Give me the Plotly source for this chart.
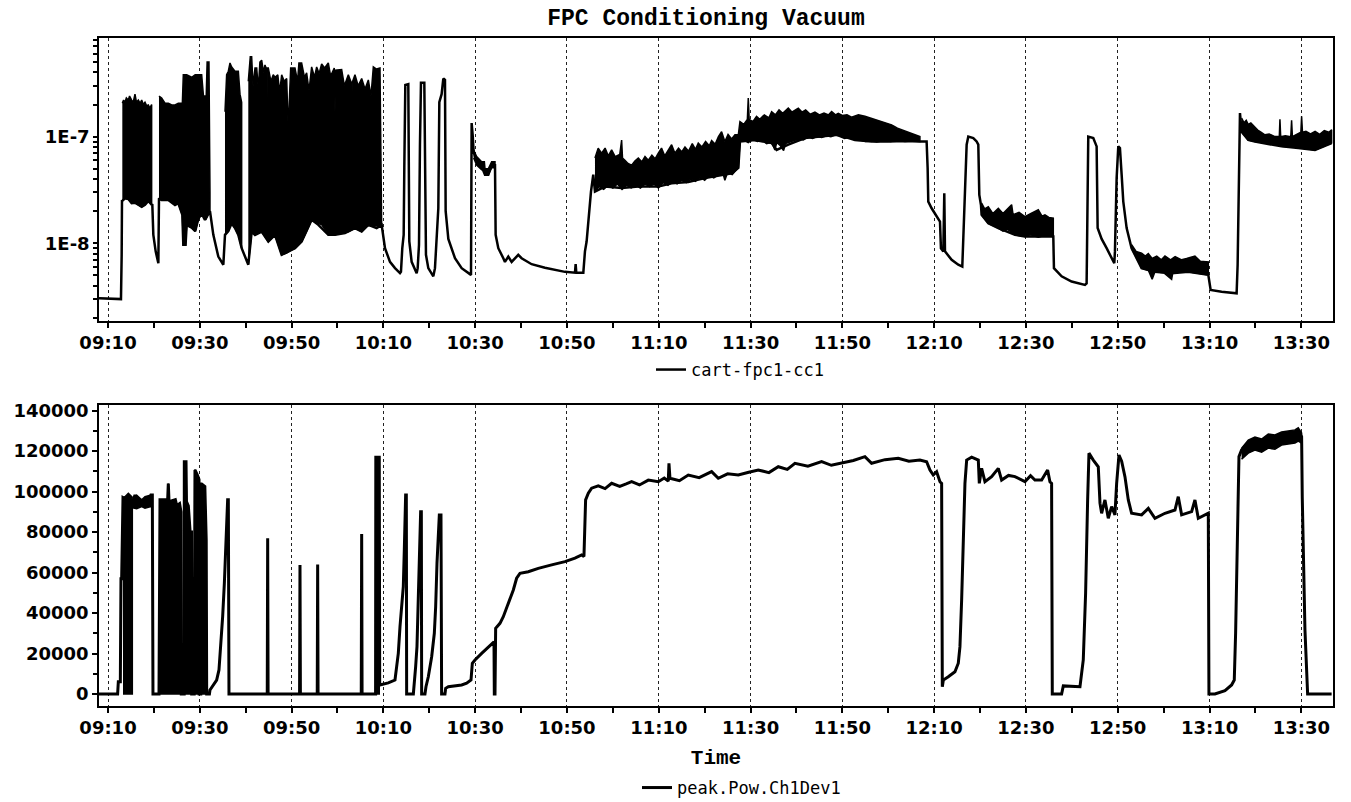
import math
import pandas as pd
import plotly.graph_objects as go
from plotly.subplots import make_subplots

# ---------------- data (time in minutes after 09:00) ----------------
top_min = [8.04, 12.83, 12.98, 13.05, 13.12, 13.7, 14.43, 15.16, 15.88, 16.61, 17.34, 18.06, 18.79, 19.51,
           19.66, 19.88, 20.39, 20.97, 21.11, 21.69, 23.14, 24.6, 25.32, 26.2, 26.41, 26.9, 27.14, 28.23,
           29.0, 29.68, 30.41, 31.13, 32.0, 32.22, 32.95, 34.04, 35.13, 35.49, 36.22, 36.94, 37.67, 38.4,
           39.12, 40.57, 41.3, 42.03, 43.48, 44.93, 46.38, 47.84, 49.29, 50.74, 52.19, 54.37, 55.83, 58.0,
           59.46, 61.63, 63.81, 65.27, 66.72, 68.53, 69.62, 70.35, 71.44, 72.53, 73.62, 73.83, 74.12, 74.42,
           74.56, 74.78, 75.43, 75.51, 75.65, 76.16, 77.25, 77.47, 77.76, 77.97, 78.19, 78.92, 79.06, 79.28,
           79.79, 80.88, 81.24, 81.61, 81.97, 82.19, 82.69, 83.06, 83.42, 83.57, 84.15, 85.6, 87.05, 89.09,
           89.23, 89.45, 89.67, 90.32, 91.41, 92.14, 92.86, 93.59, 94.32, 94.46, 95.04, 96.13, 96.49, 97.22,
           97.94, 99.39, 100.12, 102.3, 105.2, 109.56, 111.74, 111.89, 112.03, 113.56, 113.92, 114.28, 114.79,
           115.23, 115.73, 116.1, 118.28, 121.91, 125.54, 129.9, 132.8, 136.43, 140.06, 143.69, 145.87, 147.33,
           147.69, 150.96, 154.59, 155.68, 158.22, 161.85, 165.48, 169.11, 172.74, 176.37, 180.0, 183.64,
           186.9, 188.36, 188.58, 188.72, 189.45, 190.9, 191.27, 191.48, 192.0, 192.21, 192.36, 193.81, 195.26,
           196.13, 196.42, 196.71, 197.08, 197.44, 198.53, 199.25, 199.62, 199.84, 200.2, 200.34, 201.8,
           203.98, 207.61, 209.78, 212.69, 215.96, 216.1, 217.77, 219.95, 222.86, 223.22, 223.44, 223.58,
           224.67, 225.4, 225.62, 226.49, 227.58, 228.67, 229.25, 229.39, 229.76, 230.12, 230.48, 230.85,
           231.21, 231.94, 233.02, 235.2, 238.11, 241.74, 245.37, 249.73, 250.24, 252.63, 255.9, 256.12,
           256.41, 256.63, 256.99, 258.44, 259.89, 262.07, 264.25, 265.7, 269.33, 272.97, 276.6]
top_val = [3.06e-9, 3.0e-9, 7.8e-9, 2.55e-8, 2.5e-8, 2.64e-8, 2.6e-8, 2.38e-8, 2.4e-8, 2.3e-8, 2.2e-8, 2.3e-8, 2.5e-8, 2.3e-8,
           2.29e-8, 1.2e-8, 8.4e-9, 6.5e-9, 2.64e-8, 2.55e-8, 2.55e-8, 2.29e-8, 2.38e-8, 1.85e-8, 9.7e-9, 9.7e-9, 1.49e-8, 1.4e-8,
           1.3e-8, 1.7e-8, 1.9e-8, 1.66e-8, 1.98e-8, 2.0e-8, 1.2e-8, 7.5e-9, 6.3e-9, 1.2e-8, 1.3e-8, 1.54e-8, 1.39e-8, 1.2e-8,
           9.0e-9, 6.3e-9, 1.29e-8, 1.2e-8, 1.29e-8, 1.04e-8, 1.2e-8, 7.8e-9, 8.4e-9, 9.0e-9, 1.04e-8, 1.66e-8, 1.49e-8, 1.2e-8,
           1.2e-8, 1.25e-8, 1.39e-8, 1.29e-8, 1.49e-8, 1.39e-8, 1.49e-8, 9.0e-9, 6.7e-9, 5.85e-9, 5.25e-9, 5.4e-9, 9.0e-9, 1.2e-8,
           5.1e-8, 3.05e-7, 3.1e-7, 3.5e-8, 1.04e-8, 6.7e-9, 5.25e-9, 5.85e-9, 9.7e-9, 8.4e-8, 3.2e-7, 3.2e-7, 2.46e-8, 7.8e-9,
           5.85e-9, 4.9e-9, 5.85e-9, 1.04e-8, 2.13e-8, 2.1e-7, 2.5e-7, 3.5e-7, 3.4e-7, 2.0e-8, 1.1e-8, 7.25e-9, 5.85e-9, 5.06e-9,
           1.34e-7, 1.04e-7, 7.2e-8, 5.8e-8, 5.25e-8, 4.4e-8, 4.4e-8, 5.4e-8, 5.4e-8, 1.2e-8, 9.0e-9, 7.25e-9, 6.7e-9, 7.5e-9,
           6.7e-9, 7.8e-9, 7.25e-9, 6.37e-9, 5.9e-9, 5.4e-9, 5.3e-9, 6.4e-9, 5.3e-9, 5.3e-9, 8.4e-9, 1.04e-8, 1.85e-8,
           3.05e-8, 4.4e-8, 3.05e-8, 3.4e-8, 3.3e-8, 3.4e-8, 3.4e-8, 3.65e-8, 3.75e-8, 4.1e-8, 4.4e-8, 4.54e-8, 5.1e-8,
           9.0e-8, 9.3e-8, 8.7e-8, 7.5e-8, 8.4e-8, 9.7e-8, 1.0e-7, 1.04e-7, 9.3e-8, 9.0e-8, 9.0e-8, 9.1e-8,
           9.0e-8, 9.0e-8, 5.1e-8, 2.46e-8, 2.13e-8, 1.72e-8, 1.6e-8, 9.0e-9, 8.4e-9, 2.95e-8, 8.4e-9, 7.0e-9, 6.3e-9,
           6.05e-9, 1.2e-8, 3.5e-8, 8.4e-8, 1.0e-7, 9.7e-8, 9.0e-8, 8.4e-8, 2.84e-8, 2.29e-8, 1.85e-8, 1.54e-8,
           1.39e-8, 1.2e-8, 1.16e-8, 1.16e-8, 1.16e-8, 5.85e-9, 4.9e-9, 4.38e-9, 4.07e-9, 4.2e-9, 2.46e-8, 1.0e-7,
           9.7e-8, 8.1e-8, 1.39e-8, 1.1e-8, 9.0e-9, 7.25e-9, 6.5e-9, 8.4e-9, 4.1e-8, 8.1e-8, 7.8e-8, 4.4e-8,
           2.46e-8, 1.39e-8, 9.0e-9, 5.85e-9, 5.4e-9, 5.25e-9, 5.4e-9, 5.06e-9, 3.66e-9, 3.52e-9, 3.4e-9, 6.3e-9,
           4.22e-8, 1.66e-7, 1.11e-7, 9.3e-8, 9.0e-8, 8.7e-8, 8.4e-8, 8.1e-8, 7.8e-8, 7.5e-8, 8.7e-8]

# dense scatter regions of the vacuum trace: upper envelope (time, value) and lower envelope (time, value)
band1_hi_min = [13.12, 13.4, 13.7, 14.0, 14.43, 14.7, 15.16, 15.5, 15.88, 16.2, 16.61, 17.0, 17.34, 17.7,
                18.06, 18.4, 18.79, 19.1, 19.51]
band1_hi = [2.06e-7, 2.2e-7, 2.1e-7, 2.3e-7, 2.2e-7, 2.4e-7, 2.2e-7, 2.1e-7, 2.5e-7, 2.1e-7, 2.2e-7, 2.05e-7,
            2.2e-7, 2.0e-7, 2.1e-7, 1.95e-7, 1.98e-7, 1.85e-7, 2.0e-7]
band1_lo_min = [13.12, 13.7, 14.43, 15.16, 15.88, 16.61, 17.34, 18.06, 18.79, 19.51]
band1_lo = [2.5e-8, 2.64e-8, 2.6e-8, 2.38e-8, 2.4e-8, 2.3e-8, 2.2e-8, 2.3e-8, 2.5e-8, 2.3e-8]
band2_min = [21.11, 21.69, 22.42, 23.14, 23.87, 24.6, 25.32, 26.2]
band2_hi = [2.4e-7, 2.3e-7, 2.06e-7, 2.06e-7, 1.98e-7, 1.98e-7, 2.06e-7, 2.06e-7]
band2_lo = [2.64e-8, 2.55e-8, 2.55e-8, 2.55e-8, 2.4e-8, 2.29e-8, 2.38e-8, 1.85e-8]
band3_min = [26.2, 26.41, 26.9, 27.14, 28.23, 29.0, 29.68, 30.41, 30.8, 31.4, 31.6, 32.0, 32.22]
band3_hi = [2.06e-7, 3.8e-7, 3.8e-7, 3.8e-7, 3.6e-7, 3.8e-7, 3.8e-7, 3.8e-7, 2.4e-7, 2.4e-7, 5.0e-7, 5.0e-7, 3.0e-8]
band3_lo = [1.85e-8, 9.7e-9, 9.7e-9, 1.49e-8, 1.4e-8, 1.3e-8, 1.7e-8, 1.9e-8, 1.8e-8, 1.7e-8, 1.8e-8, 1.98e-8, 2.0e-8]
band4_min = [35.49, 35.85, 36.22, 36.58, 36.94, 37.67, 38.4, 38.76, 39.12]
band4_hi = [1.71e-7, 3.8e-7, 4.1e-7, 4.9e-7, 4.5e-7, 4.1e-7, 4.1e-7, 2.5e-7, 2.1e-7]
band4_lo = [1.2e-8, 1.25e-8, 1.3e-8, 1.45e-8, 1.54e-8, 1.39e-8, 1.2e-8, 1.05e-8, 9.0e-9]
band5_hi_min = [40.57, 41.0, 41.3, 41.6, 42.03, 42.4, 42.75, 43.1, 43.48, 43.9, 44.2, 44.45, 44.57, 44.7, 44.93,
                45.5, 46.0, 46.38, 47.0, 47.4, 47.84, 48.4, 48.93, 49.29, 49.5, 49.8, 50.74, 51.3, 51.6, 52.19,
                52.8, 53.28, 53.8, 54.37, 55.0, 55.46, 56.0, 56.55, 57.2, 58.0, 58.5, 59.3, 59.46, 59.6, 60.91,
                61.5, 62.36, 63.0, 63.08, 63.2, 63.81, 64.5, 65.27, 66.0, 66.72, 67.3, 67.81, 68.5, 69.26, 69.62]
band5_hi = [3.3e-7, 5.6e-7, 5.6e-7, 3.0e-7, 4.4e-7, 4.4e-7, 2.8e-7, 5.0e-7, 5.2e-7, 4.0e-7, 4.7e-7, 4.4e-7, 9.0e-8,
            4.4e-7, 4.4e-7, 3.3e-7, 3.8e-7, 3.6e-7, 3.8e-7, 2.6e-7, 3.8e-7, 3.3e-7, 3.5e-7, 1.1e-7, 2.1e-7, 4.4e-7,
            4.4e-7, 3.3e-7, 4.9e-7, 4.9e-7, 3.6e-7, 3.95e-7, 2.7e-7, 4.5e-7, 3.6e-7, 4.5e-7, 3.9e-7, 4.8e-7, 4.4e-7,
            4.9e-7, 3.7e-7, 4.4e-7, 1.7e-7, 4.2e-7, 4.25e-7, 3.0e-7, 3.8e-7, 3.2e-7, 1.6e-7, 3.2e-7, 3.8e-7, 3.0e-7,
            3.5e-7, 2.8e-7, 3.4e-7, 2.4e-7, 4.5e-7, 4.3e-7, 4.4e-7, 2.46e-8]
band5_lo_min = [40.57, 41.3, 42.03, 42.75, 43.48, 44.2, 44.93, 46.38, 47.84, 48.93, 49.65, 50.74, 52.19, 53.28,
                54.37, 55.46, 56.55, 58.0, 59.46, 60.91, 62.36, 63.81, 65.27, 66.72, 67.81, 69.26, 69.62]
band5_lo = [6.3e-9, 1.29e-8, 1.2e-8, 1.25e-8, 1.29e-8, 1.15e-8, 1.04e-8, 1.2e-8, 7.8e-9, 8.1e-9, 8.4e-9, 9.0e-9, 1.04e-8,
            1.3e-8, 1.66e-8, 1.55e-8, 1.5e-8, 1.2e-8, 1.2e-8, 1.25e-8, 1.28e-8, 1.39e-8, 1.29e-8, 1.49e-8, 1.45e-8,
            1.45e-8, 1.49e-8]
band6_min = [89.67, 90.32, 91.41, 92.0, 92.14, 92.86, 93.59, 94.32]
band6_hi = [7.5e-8, 6.5e-8, 5.8e-8, 5.8e-8, 5.0e-8, 5.0e-8, 5.8e-8, 5.8e-8]
band6_lo = [6.3e-8, 5.4e-8, 4.9e-8, 4.9e-8, 4.4e-8, 4.4e-8, 5.1e-8, 5.1e-8]
bandA_hi_min = [116.1, 116.8, 117.55, 118.3, 119.0, 119.73, 120.5, 121.5, 121.91, 122.1, 122.63, 123.3, 124.09,
                124.8, 125.54, 126.3, 127.0, 127.72, 128.5, 129.2, 129.9, 130.6, 131.3, 132.0, 132.8, 133.5,
                134.3, 135.0, 135.71, 136.5, 137.3, 138.0, 138.61, 139.4, 140.2, 141.0, 141.52, 142.3, 143.0,
                143.69, 144.4, 145.1, 145.87, 146.6, 147.33]
bandA_hi = [6.3e-8, 7.8e-8, 7.0e-8, 7.8e-8, 6.6e-8, 7.5e-8, 6.5e-8, 6.8e-8, 9.3e-8, 6.3e-8, 6.0e-8, 5.6e-8, 5.4e-8,
            5.9e-8, 6.3e-8, 5.8e-8, 6.5e-8, 6.0e-8, 6.7e-8, 6.2e-8, 7.0e-8, 7.8e-8, 6.6e-8, 7.5e-8, 8.4e-8, 7.0e-8,
            7.8e-8, 7.2e-8, 8.0e-8, 7.3e-8, 8.6e-8, 7.6e-8, 8.7e-8, 8.0e-8, 9.0e-8, 8.2e-8, 9.2e-8, 8.5e-8, 1.0e-7,
            1.11e-7, 9.0e-8, 1.05e-7, 9.5e-8, 1.04e-7, 1.04e-7]
bandA_lo_min = [116.1, 117.0, 118.0, 119.0, 120.0, 121.0, 122.0, 123.0, 124.0, 125.0, 126.0, 127.0, 128.0, 129.0,
                129.9, 131.0, 132.0, 133.0, 134.0, 135.0, 136.0, 137.0, 138.0, 139.0, 140.0, 141.0, 142.0, 143.0,
                144.0, 144.4, 145.0, 146.0, 147.33]
bandA_lo = [3.05e-8, 3.4e-8, 3.2e-8, 3.5e-8, 3.3e-8, 3.6e-8, 3.2e-8, 3.5e-8, 3.3e-8, 3.5e-8, 3.3e-8, 3.6e-8, 3.4e-8,
            3.6e-8, 3.3e-8, 3.7e-8, 3.5e-8, 3.8e-8, 3.6e-8, 3.9e-8, 3.7e-8, 4.0e-8, 3.8e-8, 4.2e-8, 3.9e-8, 4.3e-8,
            4.1e-8, 4.4e-8, 4.5e-8, 3.9e-8, 4.6e-8, 4.4e-8, 5.1e-8]
bandB_hi_min = [147.33, 147.69, 148.5, 149.3, 149.5, 149.7, 150.5, 151.3, 152.0, 153.0, 154.0, 154.59, 155.4,
                156.2, 157.0, 158.22, 159.0, 160.4, 161.2, 162.0, 163.0, 164.03, 165.0, 166.0, 167.0, 167.66,
                168.5, 169.11, 170.0, 171.0, 172.0, 172.74, 173.5, 174.92, 176.0, 177.0, 177.83, 179.0, 180.73,
                182.0, 183.64, 185.0, 186.9]
bandB_hi = [1.04e-7, 1.38e-7, 1.3e-7, 1.45e-7, 2.3e-7, 1.45e-7, 1.38e-7, 1.55e-7, 1.45e-7, 1.6e-7, 1.5e-7, 1.71e-7,
            1.6e-7, 1.78e-7, 1.65e-7, 1.85e-7, 1.7e-7, 1.85e-7, 1.7e-7, 1.78e-7, 1.62e-7, 1.7e-7, 1.6e-7, 1.66e-7,
            1.6e-7, 1.72e-7, 1.6e-7, 1.65e-7, 1.58e-7, 1.6e-7, 1.52e-7, 1.55e-7, 1.6e-7, 1.55e-7, 1.5e-7, 1.46e-7,
            1.43e-7, 1.36e-7, 1.29e-7, 1.2e-7, 1.13e-7, 1.07e-7, 1.0e-7]
bandB_lo_min = [147.33, 147.69, 148.5, 149.5, 150.5, 151.5, 152.5, 153.5, 154.59, 155.3, 155.7, 156.5, 157.2,
                157.6, 158.5, 159.5, 160.5, 161.5, 162.5, 163.5, 164.5, 165.5, 166.5, 167.5, 168.5, 169.5,
                170.5, 171.5, 172.74, 174.0, 175.0, 176.37, 177.5, 179.0, 180.5, 182.0, 183.64, 185.0, 186.9]
bandB_lo = [5.1e-8, 9.0e-8, 9.3e-8, 8.8e-8, 9.4e-8, 9.0e-8, 9.2e-8, 8.6e-8, 8.9e-8, 7.5e-8, 8.8e-8, 8.2e-8, 7.4e-8,
            8.6e-8, 8.8e-8, 9.2e-8, 9.5e-8, 9.3e-8, 9.9e-8, 9.6e-8, 1.0e-7, 9.8e-8, 1.02e-7, 1.0e-7, 1.04e-7, 1.0e-7,
            9.6e-8, 9.8e-8, 9.3e-8, 9.5e-8, 9.0e-8, 9.1e-8, 8.9e-8, 9.2e-8, 9.0e-8, 9.2e-8, 9.0e-8, 9.1e-8, 9.0e-8]
bandC_hi_min = [200.34, 201.0, 201.8, 202.8, 203.98, 205.0, 206.88, 207.2, 208.5, 209.78, 211.0, 212.69, 213.5,
                214.14, 215.0, 215.96]
bandC_hi = [2.38e-8, 2.1e-8, 2.2e-8, 1.9e-8, 2.13e-8, 1.9e-8, 2.3e-8, 1.85e-8, 1.95e-8, 1.78e-8, 1.9e-8, 2.06e-8,
            1.8e-8, 1.85e-8, 1.75e-8, 1.72e-8]
bandC_lo_min = [200.34, 201.8, 203.0, 203.98, 205.0, 206.0, 207.61, 209.78, 211.0, 212.69, 214.0, 215.96]
bandC_lo = [1.85e-8, 1.54e-8, 1.45e-8, 1.39e-8, 1.3e-8, 1.35e-8, 1.2e-8, 1.16e-8, 1.2e-8, 1.14e-8, 1.18e-8, 1.16e-8]
bandD_hi_min = [233.02, 234.0, 235.2, 236.0, 236.66, 237.5, 238.5, 239.5, 240.29, 241.5, 242.5, 243.92, 245.0,
                246.82, 248.0, 249.73]
bandD_hi = [9.7e-9, 8.4e-9, 8.1e-9, 7.6e-9, 8.0e-9, 7.2e-9, 7.6e-9, 7.0e-9, 7.6e-9, 7.0e-9, 7.5e-9, 7.0e-9, 7.2e-9,
            7.6e-9, 6.8e-9, 6.7e-9]
bandD_lo_min = [233.02, 235.2, 236.66, 237.5, 238.11, 240.0, 241.74, 242.0, 245.37, 249.73]
bandD_lo = [9.0e-9, 5.85e-9, 5.6e-9, 4.6e-9, 5.4e-9, 5.3e-9, 4.6e-9, 5.3e-9, 5.4e-9, 5.06e-9]
bandE_hi_min = [256.99, 257.5, 258.0, 258.44, 259.0, 259.89, 260.5, 261.2, 262.07, 263.0, 264.25, 265.2, 265.34,
                265.5, 266.5, 267.7, 267.88, 268.05, 269.0, 269.9, 270.06, 270.25, 271.0, 272.0, 273.0, 274.0,
                275.0, 276.0, 276.6]
bandE_hi = [1.49e-7, 1.35e-7, 1.42e-7, 1.3e-7, 1.34e-7, 1.22e-7, 1.15e-7, 1.1e-7, 1.04e-7, 1.06e-7, 1.0e-7, 1.0e-7,
            1.45e-7, 1.0e-7, 1.02e-7, 1.0e-7, 1.42e-7, 1.0e-7, 1.05e-7, 1.1e-7, 1.55e-7, 1.1e-7, 1.12e-7, 1.06e-7,
            1.12e-7, 1.05e-7, 1.14e-7, 1.1e-7, 1.16e-7]
bandE_lo_min = [256.99, 258.44, 259.89, 262.07, 264.25, 265.34, 265.7, 267.88, 268.25, 270.06, 270.42, 272.97, 276.6]
bandE_lo = [1.11e-7, 9.3e-8, 9.0e-8, 8.7e-8, 8.4e-8, 8.3e-8, 8.1e-8, 8.0e-8, 8.0e-8, 7.9e-8, 7.8e-8, 7.5e-8, 8.7e-8]

bot_min = [8.04, 12.1, 12.25, 12.69, 12.83, 12.98, 13.27, 15.3, 15.88, 16.25, 16.61, 17.34, 18.06, 18.79, 19.37,
           19.66, 19.8, 21.11, 21.33, 23.0, 23.14, 23.3, 24.67, 25.0, 25.6, 25.9, 25.97, 26.6, 26.63, 27.0, 27.1,
           27.5, 27.9, 28.2, 28.23, 28.78, 28.81, 28.95, 29.5, 29.83, 29.86, 30.22, 30.26, 30.4, 31.1, 31.4, 31.5,
           32.1, 32.22, 32.95, 33.67, 34.18, 34.62, 34.98, 35.35, 35.64, 35.85, 36.07, 36.22, 36.36, 44.7, 44.79,
           44.88, 51.74, 51.83, 51.92, 55.59, 55.68, 55.77, 65.18, 65.27, 65.36, 68.3, 68.35, 69.1, 69.2, 71.07,
           72.53, 72.89, 73.25, 73.62, 73.98, 74.34, 74.56, 74.71, 74.85, 75.0, 75.07, 76.53, 76.74, 77.03, 77.32,
           77.61, 77.9, 78.12, 78.27, 78.34, 79.06, 79.28, 79.79, 80.52, 81.1, 81.39, 81.68, 81.97, 82.19, 82.55,
           82.69, 83.42, 83.57, 84.15, 87.05, 88.14, 89.09, 89.38, 89.96, 91.41, 92.86, 94.1, 94.17, 94.32, 94.46,
           95.4, 96.13, 97.58, 98.31, 99.03, 99.76, 101.57, 103.75, 106.66, 109.56, 111.74, 113.19, 113.7, 113.92,
           114.06, 114.65, 115.37, 116.82, 118.3, 119.73, 121.5, 122.9, 124.09, 125.8, 127.72, 129.9, 131.2,
           132.07, 132.22, 132.44, 134.5, 136.43, 138.8, 141.52, 142.97, 145.0, 147.33, 149.6, 151.68, 154.0,
           156.04, 158.0, 159.67, 162.5, 165.48, 167.6, 169.84, 172.4, 174.92, 176.37, 179.3, 182.18, 184.5,
           186.9, 188.36, 189.09, 189.81, 190.54, 191.27, 191.63, 191.78, 192.0, 193.08, 194.53, 195.26, 195.62,
           195.99, 196.35, 196.71, 197.08, 198.17, 199.62, 199.84, 200.34, 201.07, 202.52, 203.98, 204.7, 206.2,
           207.61, 209.78, 211.0, 211.96, 213.42, 214.72, 215.23, 215.59, 215.74, 217.77, 218.14, 221.77, 222.49,
           223.0, 223.44, 223.73, 224.67, 225.76, 226.13, 226.49, 227.21, 227.94, 228.67, 229.39, 229.76, 230.27,
           230.85, 231.57, 232.3, 233.02, 235.2, 236.66, 238.11, 240.29, 242.47, 243.19, 243.92, 246.1, 246.82,
           247.55, 249.73, 249.87, 251.18, 253.36, 254.81, 255.39, 255.68, 255.9, 256.12, 256.41, 256.99, 258.44,
           259.89, 261.35, 262.8, 264.25, 265.7, 267.16, 268.61, 269.33, 270.06, 270.2, 270.49, 270.79, 271.37, 276.6]
bot_val = [0, 0, 6000, 6000, 57000, 57000, 97000, 94300, 98300, 96000, 94300, 94000, 95900, 94000, 98300,
           98300, 0, 0, 96000, 96000, 104000, 95000, 96000, 93000, 94000, 90000, 0, 0, 114800, 114800, 95000,
           93000, 80000, 80000, 0, 0, 110700, 110700, 108000, 106000, 0, 0, 103800, 103800, 102500, 76000, 0,
           0, 2000, 4450, 6900, 11900, 25000, 38200, 54700, 76100, 90900, 96000, 96000, 0, 0, 77000,
           0, 0, 63800, 0, 0, 64000, 0, 0, 79000, 0, 0, 117000, 117000, 4450, 5500,
           6900, 13500, 20100, 33300, 43100, 53000, 71200, 86000, 98300, 98300, 0, 0, 4450, 13500, 23400,
           53000, 76100, 90100, 90100, 0, 0, 3600, 8500, 18400, 30000, 43100, 64600, 79400, 88500, 88500,
           0, 0, 2800, 3600, 4450, 5300, 6900, 15200, 16800, 20100, 23400, 25800, 0, 0, 32500,
           34900, 38200, 46500, 51400, 57200, 59600, 60400, 62100, 63800, 65400, 67100, 68700, 67900, 82700,
           95900, 99200, 101700, 102800, 101500, 104100, 102600, 103800, 104900, 103300, 105700, 104900, 106700,
           105200, 114000, 106600, 105400, 108200, 106900, 109900, 106600, 108800, 108200, 109600, 110700, 109400,
           112300, 111000, 114000, 112600, 114800, 113000, 114000, 115400, 117300, 114000, 115800, 116500, 115000,
           115600, 114800, 110700, 108200, 109800, 104900, 104100, 3600, 6900, 8500, 11000, 15200, 23400,
           46500, 76100, 104100, 115600, 117000, 115600, 104100, 111500, 104900, 107400, 111500, 105700, 108000,
           107400, 104900, 107900, 105700, 105700, 110700, 104900, 104100, 0, 0, 4000, 3600, 16800,
           49800, 95900, 119000, 115600, 112300, 94300, 89300, 95900, 86800, 92600, 88500, 104100, 118100,
           115000, 107400, 95900, 89300, 88500, 91700, 86800, 89300, 90900, 97500, 88500, 90100, 95900,
           86800, 89300, 0, 0, 1700, 4450, 6900, 30000, 62900, 95900, 117300, 120600, 123900,
           124700, 123100, 126400, 124700, 127200, 128000, 128800, 130100, 127200, 97500, 64600, 31600, 0, 0]

# dense switching regions of the power trace
pb1_min = [13.27, 13.7, 14.43, 15.16, 15.3]
pb1_hi = [97000, 97500, 99200, 97500, 94300]
pb1_lo = [0, 0, 0, 0, 0]
pb2_min = [15.3, 16.25, 17.34, 18.06, 19.37, 19.66]
pb2_hi = [97000, 98300, 96000, 97500, 98300, 98300]
pb2_lo = [92000, 91500, 92600, 91800, 92600, 92000]
pb3_min = [21.33, 23.0, 23.14, 23.3, 24.67, 25.0, 25.6, 25.9]
pb3_hi = [96000, 96000, 104000, 95000, 96000, 93000, 94000, 90000]
pb3_lo = [0, 0, 0, 0, 0, 0, 0, 0]
pb4_min = [26.63, 27.0, 27.1, 27.5, 27.9, 28.2]
pb4_hi = [114800, 114800, 95000, 93000, 80000, 80000]
pb4_lo = [0, 0, 0, 0, 0, 0]
pb5_min = [28.81, 28.95, 29.5, 29.83]
pb5_hi = [110700, 110700, 108000, 106000]
pb5_lo = [0, 0, 0, 0]
pb6_min = [30.26, 30.4, 31.1, 31.4]
pb6_hi = [103800, 103800, 102500, 76000]
pb6_lo = [0, 0, 0, 0]
pb7_min = [68.35, 69.1]
pb7_hi = [117000, 117000]
pb7_lo = [0, 0]
pb8_min = [256.99, 258.44, 259.89, 261.35, 262.8, 264.25, 265.7, 267.16, 268.61, 269.33, 270.06]
pb8_hi = [121500, 125500, 127000, 126000, 128500, 128000, 129500, 130000, 130500, 131500, 129000]
pb8_lo = [116000, 119000, 120500, 119500, 121500, 121000, 123000, 123500, 124000, 125000, 124000]

x_range_min = [8.04, 276.9]
x_tick0_min = 10
top_tickvals = [2e-9, 3e-9, 4e-9, 5e-9, 6e-9, 7e-9, 8e-9, 9e-9,
                1e-8, 2e-8, 3e-8, 4e-8, 5e-8, 6e-8, 7e-8, 8e-8, 9e-8,
                1e-7, 2e-7, 3e-7, 4e-7, 5e-7, 6e-7, 7e-7, 8e-7]
top_ticktext = ["", "", "", "", "", "", "", "",
                "1E-8", "", "", "", "", "", "", "", "",
                "1E-7", "", "", "", "", "", "", ""]
top_range = [1.87e-9, 8.4e-7]
bot_tickvals = [0, 20000, 40000, 60000, 80000, 100000, 120000, 140000]
bot_ticktext = ["0", "20000", "40000", "60000", "80000", "100000", "120000", "140000"]
bot_range = [-5930, 142800]

# ---------------- helpers ----------------
BASE = pd.Timestamp("2024-01-01 09:00:00")


def to_time(mins):
    return [BASE + pd.Timedelta(minutes=m) for m in mins]


def band_path(bands):
    xs, ys = [], []
    for t_hi, hi, t_lo, lo in bands:
        xs += to_time(t_hi) + to_time(t_lo[::-1]) + [None]
        ys += list(hi) + list(lo[::-1]) + [None]
    return xs, ys


fig = make_subplots(rows=2, cols=1)

tb_x, tb_y = band_path([
    (band1_hi_min, band1_hi, band1_lo_min, band1_lo), (band2_min, band2_hi, band2_min, band2_lo),
    (band3_min, band3_hi, band3_min, band3_lo), (band4_min, band4_hi, band4_min, band4_lo),
    (band5_hi_min, band5_hi, band5_lo_min, band5_lo), (band6_min, band6_hi, band6_min, band6_lo),
    (bandA_hi_min, bandA_hi, bandA_lo_min, bandA_lo), (bandB_hi_min, bandB_hi, bandB_lo_min, bandB_lo),
    (bandC_hi_min, bandC_hi, bandC_lo_min, bandC_lo), (bandD_hi_min, bandD_hi, bandD_lo_min, bandD_lo),
    (bandE_hi_min, bandE_hi, bandE_lo_min, bandE_lo)])
fig.add_trace(go.Scatter(x=tb_x, y=tb_y, mode="lines", fill="toself", fillcolor="black",
                         line=dict(color="black", width=1.5), showlegend=False, hoverinfo="skip"),
              row=1, col=1)
fig.add_trace(go.Scatter(x=to_time(top_min), y=top_val, mode="lines", name="cart-fpc1-cc1",
                         line=dict(color="black", width=2.5), legend="legend"), row=1, col=1)

bb_x, bb_y = band_path([(pb1_min, pb1_hi, pb1_min, pb1_lo), (pb2_min, pb2_hi, pb2_min, pb2_lo),
                        (pb3_min, pb3_hi, pb3_min, pb3_lo), (pb4_min, pb4_hi, pb4_min, pb4_lo),
                        (pb5_min, pb5_hi, pb5_min, pb5_lo), (pb6_min, pb6_hi, pb6_min, pb6_lo),
                        (pb7_min, pb7_hi, pb7_min, pb7_lo), (pb8_min, pb8_hi, pb8_min, pb8_lo)])
fig.add_trace(go.Scatter(x=bb_x, y=bb_y, mode="lines", fill="toself", fillcolor="black",
                         line=dict(color="black", width=1.5), showlegend=False, hoverinfo="skip"),
              row=2, col=1)
fig.add_trace(go.Scatter(x=to_time(bot_min), y=bot_val, mode="lines", name="peak.Pow.Ch1Dev1",
                         line=dict(color="black", width=3), legend="legend2"), row=2, col=1)

W, H = 1351, 802
tick_font = dict(family="DejaVu Sans", size=18, color="black", weight="bold")
xr = to_time(x_range_min)
common_x = dict(type="date", range=xr, tick0=to_time([x_tick0_min])[0], dtick=20 * 60 * 1000,
                tickformat="%H:%M", ticks="outside", ticklen=5, tickwidth=1.5, tickcolor="black",
                showgrid=True, gridcolor="#222", griddash="dot", gridwidth=1,
                showline=True, linecolor="black", linewidth=1.5, mirror=True, zeroline=False,
                tickfont=tick_font, automargin=False,
                minor=dict(dtick=10 * 60 * 1000, ticks="outside", ticklen=5, tickwidth=1.5,
                           tickcolor="black", showgrid=False),
                domain=[99 / W, 1333 / W])

fig.update_layout(
    width=W, height=H, margin=dict(l=0, r=0, t=0, b=0, autoexpand=False),
    plot_bgcolor="white", paper_bgcolor="white",
    title=dict(text="FPC Conditioning Vacuum", x=706 / W, xanchor="center", y=1 - 17 / H, yanchor="middle",
               automargin=False,
               font=dict(family="Liberation Mono", size=23, color="black", weight="bold")),
    xaxis=dict(common_x),
    xaxis2=dict(common_x, title=dict(text="Time", standoff=12,
                                     font=dict(family="Liberation Mono", size=21, color="black", weight="bold"))),
    yaxis=dict(type="log", range=[math.log10(top_range[0]), math.log10(top_range[1])],
               tickvals=top_tickvals, ticktext=top_ticktext, ticks="outside", ticklen=4, tickwidth=1.5,
               tickcolor="black", showgrid=False, showline=True, linecolor="black", linewidth=1.5,
               mirror=True, zeroline=False, tickfont=tick_font, automargin=False,
               domain=[1 - 321 / H, 1 - 38 / H]),
    yaxis2=dict(range=bot_range, tickvals=bot_tickvals, ticktext=bot_ticktext, ticks="outside", ticklen=5,
                tickwidth=1.5, tickcolor="black", showgrid=False, showline=True, linecolor="black",
                linewidth=1.5, mirror=True, zeroline=False, tickfont=tick_font, automargin=False,
                minor=dict(dtick=10000, ticks="outside", ticklen=4, tickwidth=1.5, tickcolor="black",
                           showgrid=False),
                domain=[1 - 706 / H, 1 - 405 / H]),
    legend=dict(x=651 / W, y=1 - 370 / H, xanchor="left", yanchor="middle", bgcolor="rgba(0,0,0,0)",
                font=dict(family="DejaVu Sans Mono", size=17, color="black")),
    legend2=dict(x=637 / W, y=1 - 788 / H, xanchor="left", yanchor="middle", bgcolor="rgba(0,0,0,0)",
                 font=dict(family="DejaVu Sans Mono", size=17, color="black")),
    hovermode=False,
)

fig.write_html("out.html")
